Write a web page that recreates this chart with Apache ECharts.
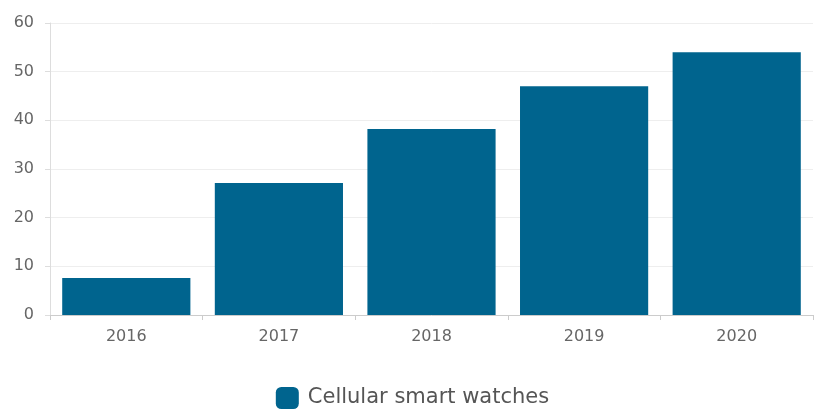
<!DOCTYPE html>
<html><head><meta charset="utf-8">
<script src="https://cdn.jsdelivr.net/npm/echarts@6/dist/echarts.min.js"></script>
<style>html,body{margin:0;padding:0;background:#fff}#c{width:825px;height:410px}</style>
</head><body><div id="c"></div>
<script>
const categories = ['2016','2017','2018','2019','2020'];
const values = [7.6, 27.1, 38.2, 47.0, 54.0];
const seriesName = 'Cellular smart watches';
const chart = echarts.init(document.getElementById('c'));
chart.setOption({
  animation:false,
  textStyle:{fontFamily:'DejaVu Sans'},
  grid:{left:50,right:12,top:23,bottom:95},
  legend:{top:384,left:'center',padding:[3,5,3,5],itemWidth:23,itemHeight:22,icon:'roundRect',itemGap:10,
    textStyle:{color:'#555',fontSize:21,fontFamily:'DejaVu Sans',padding:[0,0,0,4]},data:[seriesName]},
  xAxis:{type:'category',data:categories,
    axisLine:{lineStyle:{color:'#ccc'}},
    axisTick:{show:true,length:5,lineStyle:{color:'#ccc'}},
    axisLabel:{color:'#666',fontSize:16,margin:14}},
  yAxis:{type:'value',min:0,max:60,interval:10,
    axisLine:{show:true,lineStyle:{color:'#ddd'}},
    axisTick:{show:true,length:5,lineStyle:{color:'#ddd'}},
    splitLine:{lineStyle:{color:'#eee'}},
    axisLabel:{color:'#666',fontSize:16,margin:16}},
  series:[{name:seriesName,type:'bar',data:values,barCategoryGap:'16%',
    itemStyle:{color:'#00648e'}}]
});
</script></body></html>
